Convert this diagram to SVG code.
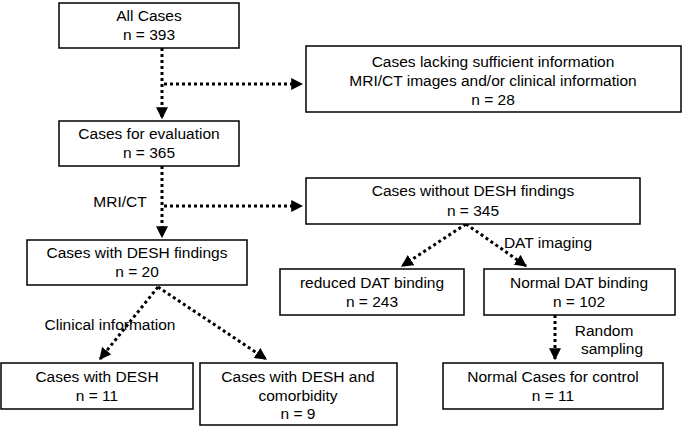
<svg xmlns="http://www.w3.org/2000/svg" width="685" height="432" viewBox="0 0 685 432">
<style>
.n rect{fill:#fff;stroke:#000;stroke-width:1.5}
text{font-family:"Liberation Sans",Arial,sans-serif;font-size:15.5px;fill:#000;text-anchor:middle}
.c line{stroke:#000;stroke-width:3;stroke-dasharray:3,3}
</style>
<defs><marker id="a" viewBox="0 0 10 10" refX="9" refY="5" markerWidth="4" markerHeight="4" orient="auto" markerUnits="strokeWidth"><path d="M0,0L10,5L0,10z"/></marker></defs>
<rect width="685" height="432" fill="#fff"/>
<g class="c">
<line x1="162" y1="48" x2="162" y2="118" marker-end="url(#a)"/>
<line x1="164" y1="84" x2="302" y2="84" marker-end="url(#a)"/>
<line x1="162" y1="166" x2="162" y2="237" marker-end="url(#a)"/>
<line x1="164" y1="206" x2="302" y2="206" marker-end="url(#a)"/>
<line x1="466" y1="224" x2="402" y2="266" marker-end="url(#a)"/>
<line x1="466" y1="224" x2="526" y2="266" marker-end="url(#a)"/>
<line x1="158" y1="287" x2="100" y2="359" marker-end="url(#a)"/>
<line x1="158" y1="287" x2="266" y2="359" marker-end="url(#a)"/>
<line x1="555" y1="315" x2="555" y2="359" marker-end="url(#a)"/>
<text x="120" y="207">MRI/CT</text>
<text x="548" y="248">DAT imaging</text>
<text x="110" y="330">Clinical information</text>
<text x="604" y="336">Random</text>
<text x="612" y="354">sampling</text>
</g>
<g class="n" id="n1"><rect x="59" y="3" width="180" height="45"/><text x="149" y="21">All Cases</text><text x="149" y="40">n = 393</text></g>
<g class="n" id="n2"><rect x="306" y="46" width="375" height="66"/><text x="493" y="67">Cases lacking sufficient information</text><text x="493" y="86">MRI/CT images and/or clinical information</text><text x="493" y="105">n = 28</text></g>
<g class="n" id="n3"><rect x="59" y="121" width="180" height="45"/><text x="149" y="139">Cases for evaluation</text><text x="149" y="158">n = 365</text></g>
<g class="n" id="n4"><rect x="306" y="178" width="334" height="46"/><text x="473" y="196">Cases without DESH findings</text><text x="473" y="216">n = 345</text></g>
<g class="n" id="n5"><rect x="27" y="240" width="220" height="45"/><text x="137" y="258">Cases with DESH findings</text><text x="137" y="277">n = 20</text></g>
<g class="n" id="n6"><rect x="280" y="269" width="184" height="46"/><text x="372" y="288">reduced DAT binding</text><text x="372" y="307">n = 243</text></g>
<g class="n" id="n7"><rect x="484" y="269" width="191" height="46"/><text x="579" y="288">Normal DAT binding</text><text x="579" y="307">n = 102</text></g>
<g class="n" id="n8"><rect x="1" y="363" width="192" height="46"/><text x="97" y="382">Cases with DESH</text><text x="97" y="401">n = 11</text></g>
<g class="n" id="n9"><rect x="200" y="363" width="197" height="62"/><text x="298" y="382">Cases with DESH and</text><text x="298" y="401">comorbidity</text><text x="298" y="419">n = 9</text></g>
<g class="n" id="n10"><rect x="443" y="363" width="220" height="46"/><text x="553" y="382">Normal Cases for control</text><text x="553" y="401">n = 11</text></g>
</svg>
